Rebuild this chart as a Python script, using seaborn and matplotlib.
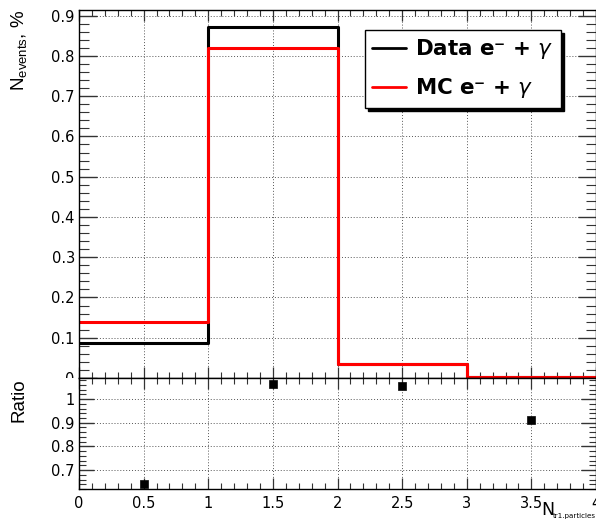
import numpy as np
import pandas as pd
import seaborn as sns
import matplotlib
matplotlib.use("Agg")
import matplotlib.pyplot as plt
from matplotlib.ticker import MultipleLocator
from matplotlib.transforms import Bbox, TransformedBbox

bin_edges = [0, 1, 2, 3, 4]
data_vals = [0.088, 0.872, 0.036, 0.0025]
mc_vals = [0.138, 0.820, 0.034, 0.00275]
ratio_x = [0.5, 1.5, 2.5, 3.5]
ratio_vals = [0.64, 1.063, 1.055, 0.91]

sns.set_theme(style="white")
plt.rcParams['font.family'] = ['DejaVu Sans']
plt.rcParams['mathtext.fontset'] = 'dejavusans'
plt.rcParams['text.color'] = 'black'
plt.rcParams['axes.labelcolor'] = 'black'
plt.rcParams['xtick.color'] = 'black'
plt.rcParams['ytick.color'] = 'black'

fig = plt.figure(figsize=(5.96, 5.2), dpi=100)
ax1 = fig.add_axes([79/596, 1-378/520, 517/596, 368/520])
ax2 = fig.add_axes([79/596, 1-489/520, 517/596, 111/520])

centers = [(a + b) / 2 for a, b in zip(bin_edges[:-1], bin_edges[1:])]
df = pd.DataFrame({"x": centers, "data": data_vals, "mc": mc_vals})

sns.histplot(data=df, x="x", weights="data", bins=bin_edges, element="step",
             fill=False, color="black", linewidth=2.2, ax=ax1,
             label="Data e\u207b + $\\gamma$")
sns.histplot(data=df, x="x", weights="mc", bins=bin_edges, element="step",
             fill=False, color="#ff0000", linewidth=2.2, ax=ax1,
             label="MC e\u207b + $\\gamma$")

ax1.set_xlim(0, 4)
ax1.set_ylim(0, 0.914)

rdf = pd.DataFrame({"x": ratio_x, "r": ratio_vals})
sns.scatterplot(data=rdf, x="x", y="r", marker="s", color="black", s=36,
                edgecolor="black", ax=ax2, zorder=5)
ax2.set_xlim(0, 4)
ax2.set_ylim(0.62, 1.089)

for ax in (ax1, ax2):
    ax.xaxis.set_major_locator(MultipleLocator(0.5))
    ax.xaxis.set_minor_locator(MultipleLocator(0.1))
    ax.yaxis.set_major_locator(MultipleLocator(0.1))
    ax.yaxis.set_minor_locator(MultipleLocator(0.02))
    ax.grid(True, which='major', linestyle=(0, (1, 2)), color='#555555', linewidth=0.7)
    ax.set_axisbelow(True)
    ax.tick_params(which='both', direction='in', top=True, right=True,
                   left=True, bottom=True, colors='#333333', labelcolor='black',
                   labelsize=10.5)
    ax.tick_params(which='minor', length=4, width=0.8)
    ax.tick_params(axis='x', which='major', length=8, width=0.9)
    for sp in ax.spines.values():
        sp.set_color('black')
        sp.set_linewidth(1.0)
    ax.set_xlabel("")
    ax.set_ylabel("")

ax1.tick_params(axis='y', which='major', length=13, width=1.0)
ax1.tick_params(axis='y', which='minor', length=7)
ax2.tick_params(axis='y', which='major', length=11, width=1.0)
ax2.tick_params(axis='y', which='minor', length=5)
ax1.tick_params(axis='x', labelbottom=False)
ax1.set_yticks([0, 0.1, 0.2, 0.3, 0.4, 0.5, 0.6, 0.7, 0.8, 0.9])
ax1.set_yticklabels(["0", "0.1", "0.2", "0.3", "0.4", "0.5", "0.6", "0.7", "0.8", "0.9"])
ax2.set_yticks([0.7, 0.8, 0.9, 1.0])
ax2.set_yticklabels(["0.7", "0.8", "0.9", "1"])
ax2.set_xticks([0, 0.5, 1, 1.5, 2, 2.5, 3, 3.5, 4])
ax2.set_xticklabels(["0", "0.5", "1", "1.5", "2", "2.5", "3", "3.5", "4"])
ax1.tick_params(axis='y', pad=3)
ax2.tick_params(axis='y', pad=3)
ax2.tick_params(axis='x', pad=5)

# clip the "0" label of the upper pad at the pad boundary
clipbox = TransformedBbox(Bbox([[0, 1-378/520], [1, 1]]), fig.transFigure)
for lab in ax1.get_yticklabels():
    if lab.get_text() == "0":
        lab.set_clip_on(True)
        lab.set_clip_box(clipbox)

ax1.set_ylabel("N$_{\\mathregular{events}}$, %", fontsize=13.5, loc='top',
               family='Liberation Sans')
ax1.yaxis.set_label_coords(-0.095, 1.0)
ax2.set_ylabel("Ratio", fontsize=13.5, loc='top', family='Liberation Sans')
ax2.yaxis.set_label_coords(-0.1, 1.0)

# x-axis title: large N with a small subscript
fig.text(541/596, 1-501/520, "N", fontsize=12.5, ha='left', va='top')
fig.text(553/596, 1-519/520, "tr1.particles", fontsize=5.1, ha='left', va='bottom')

leg = ax1.legend(loc='upper left', bbox_to_anchor=(0.553, 0.946), frameon=True,
                 fancybox=False, edgecolor='black', framealpha=1,
                 shadow={'color': 'black', 'alpha': 1.0},
                 prop={'weight': 'bold', 'size': 15.4}, handlelength=1.55,
                 handletextpad=0.45, labelspacing=0.7, borderpad=0.35,
                 borderaxespad=0)
leg.get_frame().set_linewidth(1.0)
for line in leg.get_lines():
    line.set_linewidth(2.0)
for t in leg.get_texts():
    t.set_color('black')

fig.savefig("out.png", dpi=100)
